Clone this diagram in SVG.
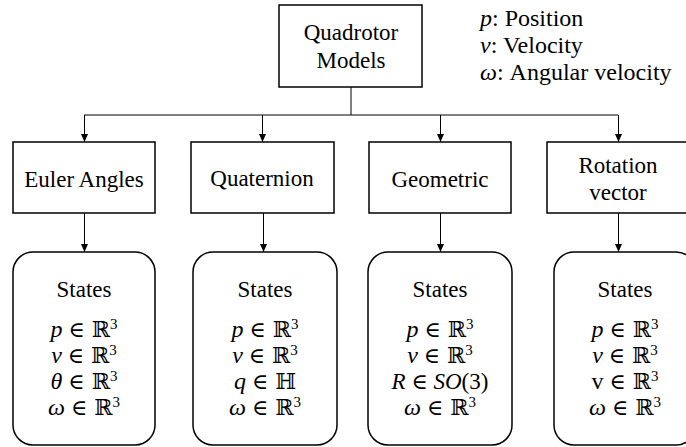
<svg xmlns="http://www.w3.org/2000/svg" width="686" height="447" viewBox="0 0 686 447">
<defs>
<marker id="ah" markerWidth="8" markerHeight="7" refX="8" refY="3.5" orient="auto" markerUnits="userSpaceOnUse" viewBox="0 0 8 7">
<path d="M0,0 L8,3.5 L0,7 Z" fill="#000"/>
</marker>
<style>
.box{fill:#fff;stroke:#000;stroke-width:1.5}
.t{font-family:'Liberation Serif','Times New Roman',serif;font-size:23px;fill:#000;text-anchor:middle}
.m{font-family:'Liberation Serif','DejaVu Serif','DejaVu Sans',serif;font-size:24px;fill:#000;text-anchor:middle}
.i{font-style:italic}
.sym{font-family:'DejaVu Serif','DejaVu Sans',serif;font-size:22px}
.sup{font-size:15px}
.lg{font-family:'Liberation Serif','Times New Roman',serif;font-size:24px;fill:#000}
.c{fill:none;stroke:#000;stroke-width:1}
</style>
</defs>
<g id="connectors">
<line class="c" x1="351" y1="87" x2="351" y2="115"/>
<line class="c" x1="84" y1="115" x2="618" y2="115" stroke="#444"/>
<line class="c" x1="84.5" y1="115" x2="84.5" y2="142" marker-end="url(#ah)"/>
<line class="c" x1="262.5" y1="115" x2="262.5" y2="142" marker-end="url(#ah)"/>
<line class="c" x1="440.5" y1="115" x2="440.5" y2="142" marker-end="url(#ah)"/>
<line class="c" x1="618.5" y1="115" x2="618.5" y2="142" marker-end="url(#ah)"/>
<line class="c" x1="84.5" y1="213" x2="84.5" y2="252" marker-end="url(#ah)"/>
<line class="c" x1="263.5" y1="213" x2="263.5" y2="252" marker-end="url(#ah)"/>
<line class="c" x1="440.5" y1="213" x2="440.5" y2="252" marker-end="url(#ah)"/>
<line class="c" x1="618.5" y1="213" x2="618.5" y2="252" marker-end="url(#ah)"/>
</g>
<g id="root">
<rect class="box" x="279" y="5" width="143" height="82"/>
<text class="t" x="351" y="40">Quadrotor</text>
<text class="t" x="351" y="68">Models</text>
</g>
<g id="legend">
<text class="lg" x="480" y="26"><tspan class="i">p</tspan>: Position</text>
<text class="lg" x="480" y="53"><tspan class="i">v</tspan>: Velocity</text>
<text class="lg" x="480" y="80"><tspan class="i">ω</tspan>: Angular velocity</text>
</g>
<g id="euler">
<rect class="box" x="13" y="142" width="142" height="71"/>
<text class="t" x="84" y="187">Euler Angles</text>
</g>
<g id="quaternion">
<rect class="box" x="191" y="142" width="143" height="71"/>
<text class="t" x="262" y="186">Quaternion</text>
</g>
<g id="geometric">
<rect class="box" x="369" y="142" width="142" height="71"/>
<text class="t" x="440" y="187">Geometric</text>
</g>
<g id="rotation">
<rect class="box" x="547" y="142" width="142" height="71"/>
<text class="t" x="618" y="173">Rotation</text>
<text class="t" x="618" y="200">vector</text>
</g>
<g id="states-euler">
<rect class="box" x="13" y="252" width="142" height="193" rx="20"/>
<text class="t" x="84" y="297">States</text>
<text class="m" x="84" y="337"><tspan class="i">p</tspan> <tspan class="sym">∈ ℝ</tspan><tspan class="sup" dy="-8">3</tspan></text>
<text class="m" x="84" y="363"><tspan class="i">v</tspan> <tspan class="sym">∈ ℝ</tspan><tspan class="sup" dy="-8">3</tspan></text>
<text class="m" x="84" y="389"><tspan class="i">θ</tspan> <tspan class="sym">∈ ℝ</tspan><tspan class="sup" dy="-8">3</tspan></text>
<text class="m" x="84" y="415"><tspan class="i">ω</tspan> <tspan class="sym">∈ ℝ</tspan><tspan class="sup" dy="-8">3</tspan></text>
</g>
<g id="states-quaternion">
<rect class="box" x="193" y="252" width="144" height="193" rx="20"/>
<text class="t" x="265" y="297">States</text>
<text class="m" x="265" y="337"><tspan class="i">p</tspan> <tspan class="sym">∈ ℝ</tspan><tspan class="sup" dy="-8">3</tspan></text>
<text class="m" x="265" y="363"><tspan class="i">v</tspan> <tspan class="sym">∈ ℝ</tspan><tspan class="sup" dy="-8">3</tspan></text>
<text class="m" x="265" y="389"><tspan class="i">q</tspan> <tspan class="sym">∈ ℍ</tspan></text>
<text class="m" x="265" y="415"><tspan class="i">ω</tspan> <tspan class="sym">∈ ℝ</tspan><tspan class="sup" dy="-8">3</tspan></text>
</g>
<g id="states-geometric">
<rect class="box" x="368" y="252" width="144" height="193" rx="20"/>
<text class="t" x="440" y="297">States</text>
<text class="m" x="440" y="337"><tspan class="i">p</tspan> <tspan class="sym">∈ ℝ</tspan><tspan class="sup" dy="-8">3</tspan></text>
<text class="m" x="440" y="363"><tspan class="i">v</tspan> <tspan class="sym">∈ ℝ</tspan><tspan class="sup" dy="-8">3</tspan></text>
<text class="m" x="440" y="389" style="font-size:23px"><tspan class="i">R</tspan> <tspan class="sym">∈</tspan> <tspan class="i">SO</tspan>(3)</text>
<text class="m" x="440" y="415"><tspan class="i">ω</tspan> <tspan class="sym">∈ ℝ</tspan><tspan class="sup" dy="-8">3</tspan></text>
</g>
<g id="states-rotation">
<rect class="box" x="554" y="252" width="142" height="193" rx="20"/>
<text class="t" x="625" y="297">States</text>
<text class="m" x="625" y="337"><tspan class="i">p</tspan> <tspan class="sym">∈ ℝ</tspan><tspan class="sup" dy="-8">3</tspan></text>
<text class="m" x="625" y="363"><tspan class="i">v</tspan> <tspan class="sym">∈ ℝ</tspan><tspan class="sup" dy="-8">3</tspan></text>
<text class="m" x="625" y="389">v <tspan class="sym">∈ ℝ</tspan><tspan class="sup" dy="-8">3</tspan></text>
<text class="m" x="625" y="415"><tspan class="i">ω</tspan> <tspan class="sym">∈ ℝ</tspan><tspan class="sup" dy="-8">3</tspan></text>
</g>
</svg>
